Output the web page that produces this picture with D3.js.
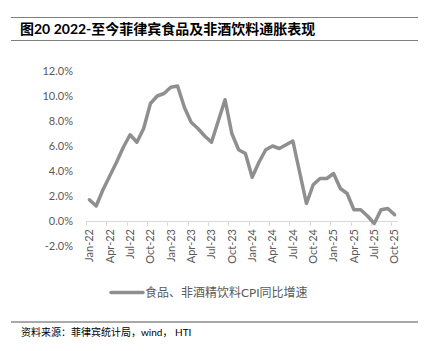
<!DOCTYPE html>
<meta charset="utf-8">
<head>
  <title>Philippines food CPI</title>
</head>
<style>
body { margin: 0; background: #fff; }
text { font-family: Lato, "Noto Sans CJK SC", sans-serif; }
</style>
<body>
  <svg width="430" height="351"></svg>
  <script src="https://cdn.jsdelivr.net/npm/d3@7"></script>
  <script>
var months = ['Jan-22','Feb-22','Mar-22','Apr-22','May-22','Jun-22','Jul-22','Aug-22','Sep-22','Oct-22','Nov-22','Dec-22',
  'Jan-23','Feb-23','Mar-23','Apr-23','May-23','Jun-23','Jul-23','Aug-23','Sep-23','Oct-23','Nov-23','Dec-23',
  'Jan-24','Feb-24','Mar-24','Apr-24','May-24','Jun-24','Jul-24','Aug-24','Sep-24','Oct-24','Nov-24','Dec-24',
  'Jan-25','Feb-25','Mar-25','Apr-25','May-25','Jun-25','Jul-25','Aug-25','Sep-25','Oct-25'];
var foodCpi = [1.7,1.2,2.5,3.6,4.7,5.9,6.9,6.3,7.4,9.4,10.0,10.2,
  10.7,10.8,9.1,7.9,7.4,6.8,6.3,8.0,9.7,7.0,5.7,5.4,
  3.5,4.7,5.7,6.0,5.8,6.1,6.4,3.9,1.4,2.9,3.4,3.4,
  3.8,2.6,2.2,0.9,0.9,0.4,-0.2,0.9,1.0,0.5];
var yTicks = [-2,0,2,4,6,8,10,12];

var title = '图20 2022-至今菲律宾食品及非酒饮料通胀表现';
var legendName = '食品、非酒精饮料CPI同比增速';
var source = '资料来源：菲律宾统计局，wind， HTI';

var svg = d3.select('svg');
var lineColor = '#8f8f8f';
var textColor = '#595959';

// header
svg.append('line').attr('x1', 11).attr('x2', 418).attr('y1', 17.5).attr('y2', 17.5)
  .attr('stroke', '#7f7f7f').attr('stroke-width', 1.2);
svg.append('line').attr('x1', 11).attr('x2', 418).attr('y1', 40.5).attr('y2', 40.5)
  .attr('stroke', '#7f7f7f').attr('stroke-width', 1.2);
svg.append('text').attr('x', 20).attr('y', 34)
  .attr('font-size', 14).attr('font-weight', 'bold').attr('fill', '#000')
  .text(title);

var x = d3.scaleBand().domain(months).range([86, 398]).paddingInner(0).paddingOuter(0);
var y = d3.scaleLinear().domain([-2, 12]).range([246, 71]);

// y labels
svg.append('g').selectAll('text')
  .data(yTicks)
  .enter()
  .append('text')
  .attr('x', 73)
  .attr('y', function(d) { return y(d); })
  .attr('dy', '0.35em')
  .attr('text-anchor', 'end')
  .attr('font-size', 11)
  .attr('fill', textColor)
  .text(function(d) { return d.toFixed(1) + '%'; });

// x axis line at zero
svg.append('line')
  .attr('x1', x.range()[0]).attr('x2', x.range()[1])
  .attr('y1', y(0) + 0.5).attr('y2', y(0) + 0.5)
  .attr('stroke', '#d9d9d9').attr('stroke-width', 1);

var tickMonths = months.filter(function(d, i) { return i % 3 === 0; });

svg.append('g').selectAll('line')
  .data(tickMonths)
  .enter()
  .append('line')
  .attr('x1', function(d) { return Math.round(x(d)) + 0.5; })
  .attr('x2', function(d) { return Math.round(x(d)) + 0.5; })
  .attr('y1', y(0)).attr('y2', y(0) + 5)
  .attr('stroke', '#d9d9d9');

svg.append('g').selectAll('text')
  .data(tickMonths)
  .enter()
  .append('text')
  .attr('transform', function(d) {
    return 'translate(' + (x(d) + x.bandwidth() / 2) + ',' + 229 + ') rotate(-90)';
  })
  .attr('dy', '0.35em')
  .attr('text-anchor', 'end')
  .attr('font-size', 11)
  .attr('fill', textColor)
  .text(function(d) { return d; });

// series
var line = d3.line()
  .x(function(d, i) { return x(months[i]) + x.bandwidth() / 2; })
  .y(function(d) { return y(d); });

svg.append('path')
  .datum(foodCpi)
  .attr('d', line)
  .attr('fill', 'none')
  .attr('stroke', lineColor)
  .attr('stroke-width', 3.5)
  .attr('stroke-linejoin', 'round')
  .attr('stroke-linecap', 'round');

// legend
svg.append('line').attr('x1', 111).attr('x2', 143).attr('y1', 292.5).attr('y2', 292.5)
  .attr('stroke', lineColor).attr('stroke-width', 3.5).attr('stroke-linecap', 'round');
svg.append('text').attr('x', 145).attr('y', 292.5).attr('dy', '0.35em')
  .attr('font-size', 12).attr('fill', textColor)
  .text(legendName);

// footer
svg.append('line').attr('x1', 11).attr('x2', 418).attr('y1', 322).attr('y2', 322)
  .attr('stroke', '#555').attr('stroke-width', 1.2);
svg.append('text').attr('x', 21).attr('y', 332).attr('dy', '0.35em')
  .attr('font-size', 10).attr('fill', '#000')
  .text(source);
  </script>
</body>
</html>
